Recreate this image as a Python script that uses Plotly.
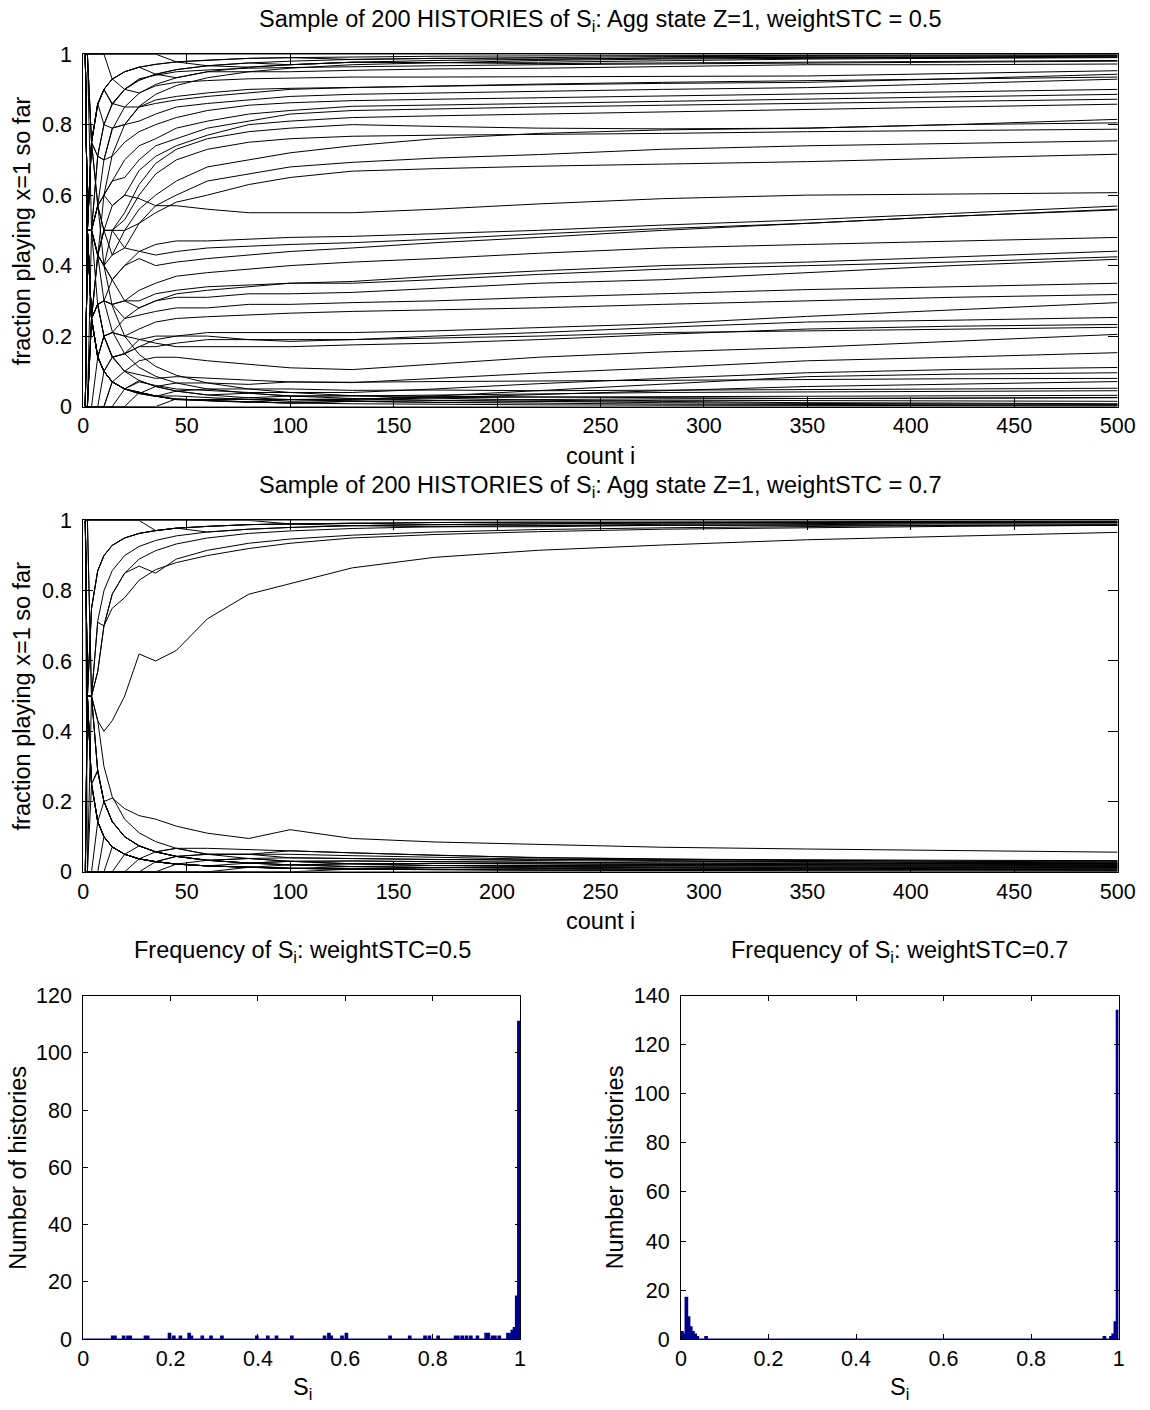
import numpy as np
import plotly.graph_objects as go

# ---------------- data ----------------
COUNT_I = [1, 2, 4, 7, 10, 14, 20, 27, 35, 45, 60, 80, 100, 130, 170, 220, 280, 350, 420, 500]

# weightSTC = 0.5 : histories that keep wandering
top_wandering = [
    [1, 1, 0.75, 0.86, 0.9, 0.86, 0.9, 0.89, 0.91, 0.92, 0.925, 0.93, 0.932, 0.935, 0.935, 0.936, 0.937, 0.938, 0.945, 0.953],
    [1, 0.5, 0.75, 0.86, 0.8, 0.86, 0.85, 0.85, 0.87, 0.88, 0.89, 0.9, 0.903, 0.906, 0.91, 0.913, 0.917, 0.92, 0.93, 0.943],
    [0, 0.5, 0.75, 0.71, 0.8, 0.79, 0.8, 0.81, 0.83, 0.85, 0.86, 0.87, 0.88, 0.886, 0.89, 0.895, 0.9, 0.905, 0.917, 0.929],
    [1, 0.5, 0.5, 0.71, 0.7, 0.71, 0.75, 0.78, 0.8, 0.82, 0.84, 0.855, 0.862, 0.868, 0.872, 0.876, 0.88, 0.886, 0.893, 0.9],
    [0, 0.5, 0.5, 0.57, 0.6, 0.64, 0.7, 0.74, 0.76, 0.79, 0.81, 0.83, 0.84, 0.852, 0.855, 0.86, 0.866, 0.872, 0.879, 0.886],
    [1, 1, 0.75, 0.57, 0.6, 0.64, 0.65, 0.7, 0.74, 0.76, 0.79, 0.81, 0.83, 0.84, 0.845, 0.85, 0.855, 0.86, 0.866, 0.872],
    [0, 0.5, 0.5, 0.43, 0.5, 0.57, 0.6, 0.67, 0.71, 0.74, 0.77, 0.8, 0.81, 0.82, 0.825, 0.83, 0.838, 0.844, 0.851, 0.858],
    [1, 0.5, 0.25, 0.43, 0.5, 0.5, 0.55, 0.63, 0.69, 0.73, 0.76, 0.78, 0.79, 0.8, 0.795, 0.79, 0.788, 0.79, 0.8, 0.815],
    [0, 0, 0.25, 0.43, 0.4, 0.5, 0.53, 0.6, 0.66, 0.7, 0.73, 0.75, 0.76, 0.767, 0.77, 0.772, 0.775, 0.78, 0.784, 0.787],
    [1, 0.5, 0.5, 0.57, 0.5, 0.5, 0.45, 0.52, 0.57, 0.6, 0.64, 0.66, 0.68, 0.693, 0.705, 0.715, 0.73, 0.74, 0.747, 0.754],
    [0, 0.5, 0.5, 0.43, 0.4, 0.43, 0.5, 0.52, 0.55, 0.58, 0.6, 0.63, 0.65, 0.668, 0.675, 0.682, 0.688, 0.695, 0.705, 0.716],
    [1, 0.5, 0.5, 0.57, 0.6, 0.57, 0.6, 0.59, 0.57, 0.57, 0.56, 0.55, 0.55, 0.55, 0.56, 0.575, 0.59, 0.6, 0.603, 0.607],
    [0, 0.5, 0.25, 0.29, 0.3, 0.36, 0.4, 0.44, 0.46, 0.47, 0.47, 0.475, 0.48, 0.483, 0.49, 0.5, 0.515, 0.53, 0.548, 0.569],
    [1, 0.5, 0.5, 0.43, 0.4, 0.36, 0.4, 0.42, 0.4, 0.41, 0.42, 0.43, 0.44, 0.45, 0.465, 0.48, 0.5, 0.52, 0.54, 0.56],
    [1, 0.5, 0.5, 0.57, 0.5, 0.43, 0.45, 0.44, 0.43, 0.44, 0.45, 0.455, 0.46, 0.465, 0.475, 0.49, 0.505, 0.52, 0.54, 0.558],
    [0, 0, 0.25, 0.29, 0.3, 0.29, 0.3, 0.33, 0.35, 0.37, 0.38, 0.39, 0.4, 0.41, 0.42, 0.435, 0.45, 0.46, 0.47, 0.48],
    [1, 0.5, 0.25, 0.14, 0.2, 0.21, 0.25, 0.28, 0.3, 0.32, 0.33, 0.34, 0.35, 0.355, 0.37, 0.385, 0.4, 0.41, 0.425, 0.441],
    [0, 0.5, 0.25, 0.29, 0.3, 0.29, 0.3, 0.3, 0.32, 0.33, 0.34, 0.345, 0.35, 0.35, 0.36, 0.375, 0.39, 0.4, 0.41, 0.425],
    [0, 0.5, 0.5, 0.43, 0.4, 0.36, 0.3, 0.28, 0.3, 0.31, 0.31, 0.32, 0.32, 0.324, 0.335, 0.35, 0.36, 0.38, 0.4, 0.418],
    [1, 0.5, 0.25, 0.29, 0.3, 0.29, 0.25, 0.26, 0.27, 0.28, 0.28, 0.29, 0.29, 0.295, 0.3, 0.31, 0.32, 0.332, 0.34, 0.35],
    [0, 0, 0.25, 0.14, 0.2, 0.21, 0.2, 0.22, 0.24, 0.25, 0.255, 0.26, 0.265, 0.27, 0.275, 0.28, 0.29, 0.3, 0.31, 0.318],
    [0, 0.5, 0.25, 0.29, 0.2, 0.14, 0.15, 0.17, 0.19, 0.2, 0.21, 0.21, 0.21, 0.21, 0.215, 0.225, 0.235, 0.256, 0.275, 0.295],
    [1, 0.5, 0.25, 0.14, 0.1, 0.14, 0.15, 0.17, 0.17, 0.18, 0.19, 0.19, 0.19, 0.19, 0.2, 0.21, 0.225, 0.24, 0.245, 0.253],
    [0, 0, 0.25, 0.29, 0.2, 0.21, 0.2, 0.19, 0.18, 0.17, 0.17, 0.17, 0.17, 0.175, 0.18, 0.19, 0.205, 0.22, 0.228, 0.233],
    [0, 0, 0.25, 0.14, 0.1, 0.14, 0.15, 0.19, 0.2, 0.2, 0.2, 0.19, 0.185, 0.19, 0.195, 0.2, 0.21, 0.215, 0.22, 0.225],
    [0, 0.5, 0.25, 0.14, 0.1, 0.07, 0.1, 0.13, 0.14, 0.14, 0.13, 0.12, 0.11, 0.105, 0.12, 0.14, 0.155, 0.168, 0.185, 0.205],
    [1, 0.5, 0.25, 0.14, 0.2, 0.14, 0.1, 0.09, 0.08, 0.085, 0.08, 0.075, 0.07, 0.068, 0.08, 0.095, 0.11, 0.13, 0.14, 0.153],
    [0, 0, 0, 0.14, 0.1, 0.07, 0.05, 0.07, 0.06, 0.05, 0.045, 0.04, 0.04, 0.04, 0.05, 0.065, 0.08, 0.096, 0.105, 0.111],
    [0, 0.5, 0.25, 0.14, 0.1, 0.07, 0.05, 0.04, 0.03, 0.03, 0.025, 0.02, 0.02, 0.02, 0.03, 0.045, 0.065, 0.085, 0.092, 0.096],
    [0, 0, 0, 0, 0.1, 0.07, 0.05, 0.04, 0.03, 0.02, 0.02, 0.02, 0.015, 0.018, 0.025, 0.035, 0.045, 0.057, 0.064, 0.071],
    [0, 0, 0, 0, 0, 0.07, 0.05, 0.04, 0.03, 0.02, 0.02, 0.025, 0.03, 0.03, 0.032, 0.036, 0.04, 0.042, 0.043, 0.045],
    [0, 0, 0, 0, 0, 0, 0, 0.04, 0.03, 0.02, 0.017, 0.012, 0.02, 0.023, 0.025, 0.027, 0.028, 0.03, 0.031, 0.032],
    [1, 0.5, 0.25, 0.14, 0.1, 0.07, 0.05, 0.04, 0.03, 0.02, 0.017, 0.012, 0.01, 0.015, 0.018, 0.02, 0.022, 0.023, 0.024, 0.025],
    [1, 0.5, 0.5, 0.43, 0.5, 0.5, 0.5, 0.56, 0.6, 0.64, 0.68, 0.7, 0.72, 0.74, 0.76, 0.775, 0.785, 0.79, 0.8, 0.805],
    [1, 1, 0.75, 0.71, 0.7, 0.79, 0.8, 0.85, 0.86, 0.87, 0.88, 0.89, 0.9, 0.905, 0.91, 0.915, 0.92, 0.925, 0.93, 0.935],
    [0, 0.5, 0.75, 0.86, 0.9, 0.93, 0.9, 0.93, 0.94, 0.95, 0.955, 0.96, 0.962, 0.965, 0.967, 0.97, 0.972, 0.975, 0.977, 0.98],
]

# weightSTC = 0.5 : histories locked in near 1 or near 0
top_locked = [
    [1, 1, 1, 1, 1, 1, 1, 1, 1, 1, 1, 1, 1, 1, 1, 1, 1, 1, 1, 1],
    [0, 0.5, 0.75, 0.857, 0.9, 0.929, 0.95, 0.963, 0.971, 0.978, 0.983, 0.988, 0.99, 0.992, 0.994, 0.995, 0.996, 0.997, 0.998, 0.998],
    [1, 0.5, 0.5, 0.714, 0.8, 0.857, 0.9, 0.926, 0.943, 0.956, 0.967, 0.975, 0.98, 0.985, 0.988, 0.991, 0.993, 0.994, 0.995, 0.996],
    [0, 0, 0.5, 0.57, 0.7, 0.786, 0.85, 0.889, 0.914, 0.933, 0.95, 0.963, 0.97, 0.977, 0.982, 0.986, 0.989, 0.991, 0.993, 0.994],
    [1, 0.5, 0.25, 0.43, 0.6, 0.714, 0.8, 0.852, 0.886, 0.911, 0.933, 0.95, 0.96, 0.97, 0.976, 0.982, 0.986, 0.989, 0.99, 0.992],
    [1, 1, 1, 1, 1, 0.929, 0.95, 0.963, 0.943, 0.956, 0.967, 0.963, 0.97, 0.977, 0.976, 0.977, 0.982, 0.986, 0.988, 0.99],
    [1, 0.5, 0.75, 0.857, 0.9, 0.929, 0.95, 0.963, 0.971, 0.978, 0.967, 0.975, 0.97, 0.977, 0.976, 0.973, 0.975, 0.977, 0.98, 0.982],
    [0, 0.5, 0.75, 0.857, 0.9, 0.857, 0.9, 0.926, 0.943, 0.933, 0.95, 0.95, 0.95, 0.954, 0.958, 0.96, 0.965, 0.97, 0.97, 0.972],
    [1, 1, 1, 1, 1, 1, 1, 1, 1, 0.978, 0.983, 0.988, 0.99, 0.985, 0.988, 0.986, 0.989, 0.991, 0.99, 0.992],
    [0, 0, 0, 0, 0, 0, 0, 0, 0, 0, 0, 0, 0, 0, 0, 0, 0, 0, 0, 0],
    [1, 0.5, 0.25, 0.143, 0.1, 0.071, 0.05, 0.037, 0.029, 0.022, 0.017, 0.0125, 0.01, 0.008, 0.006, 0.005, 0.004, 0.003, 0.002, 0.002],
    [0, 0.5, 0.5, 0.286, 0.2, 0.143, 0.1, 0.074, 0.057, 0.044, 0.033, 0.025, 0.02, 0.015, 0.012, 0.009, 0.007, 0.006, 0.005, 0.004],
    [1, 1, 0.5, 0.43, 0.3, 0.214, 0.15, 0.111, 0.086, 0.067, 0.05, 0.038, 0.03, 0.023, 0.018, 0.014, 0.011, 0.009, 0.007, 0.006],
    [0, 0.5, 0.75, 0.57, 0.4, 0.286, 0.2, 0.148, 0.114, 0.089, 0.067, 0.05, 0.04, 0.031, 0.024, 0.018, 0.014, 0.011, 0.01, 0.008],
    [0, 0, 0, 0, 0, 0, 0.05, 0.037, 0.029, 0.044, 0.033, 0.038, 0.03, 0.031, 0.029, 0.027, 0.025, 0.023, 0.024, 0.026],
    [0, 0, 0, 0, 0, 0.071, 0.05, 0.037, 0.057, 0.044, 0.05, 0.05, 0.05, 0.046, 0.047, 0.045, 0.046, 0.049, 0.05, 0.052],
    [1, 0.5, 0.25, 0.143, 0.1, 0.071, 0.05, 0.074, 0.057, 0.067, 0.067, 0.063, 0.07, 0.069, 0.071, 0.073, 0.075, 0.077, 0.079, 0.08],
    [0, 0, 0, 0, 0, 0, 0, 0, 0, 0.022, 0.017, 0.013, 0.01, 0.015, 0.012, 0.014, 0.018, 0.017, 0.016, 0.015],
]

# weightSTC = 0.7 : the few visible interior histories
mid_wandering = [
    [1, 0.5, 0.5, 0.43, 0.4, 0.43, 0.5, 0.62, 0.6, 0.63, 0.72, 0.79, 0.82, 0.865, 0.895, 0.915, 0.93, 0.945, 0.955, 0.966],
    [1, 0.5, 0.5, 0.71, 0.7, 0.75, 0.78, 0.83, 0.86, 0.88, 0.9, 0.92, 0.935, 0.95, 0.96, 0.968, 0.975, 0.98, 0.983, 0.986],
    [1, 0.5, 0.5, 0.57, 0.7, 0.79, 0.85, 0.87, 0.85, 0.89, 0.915, 0.935, 0.947, 0.958, 0.967, 0.974, 0.979, 0.983, 0.986, 0.988],
    [0, 0.5, 0.5, 0.57, 0.7, 0.79, 0.85, 0.89, 0.914, 0.933, 0.95, 0.963, 0.97, 0.977, 0.982, 0.986, 0.989, 0.991, 0.993, 0.994],
    [0, 0.5, 0.75, 0.857, 0.9, 0.929, 0.95, 0.963, 0.971, 0.978, 0.983, 0.988, 0.99, 0.992, 0.994, 0.995, 0.996, 0.997, 0.998, 0.998],
    [1, 0, 0.5, 0.714, 0.8, 0.857, 0.9, 0.926, 0.943, 0.956, 0.967, 0.975, 0.98, 0.985, 0.988, 0.991, 0.993, 0.994, 0.995, 0.996],
    [0, 0.5, 0.25, 0.29, 0.2, 0.21, 0.18, 0.16, 0.15, 0.13, 0.11, 0.095, 0.12, 0.095, 0.085, 0.078, 0.07, 0.065, 0.06, 0.056],
    [1, 0.5, 0.5, 0.43, 0.3, 0.214, 0.15, 0.111, 0.086, 0.067, 0.05, 0.038, 0.03, 0.023, 0.018, 0.014, 0.011, 0.009, 0.007, 0.006],
    [1, 1, 0.5, 0.286, 0.2, 0.143, 0.1, 0.074, 0.057, 0.044, 0.033, 0.025, 0.02, 0.015, 0.012, 0.009, 0.007, 0.006, 0.005, 0.004],
    [1, 0.5, 0.25, 0.143, 0.1, 0.071, 0.05, 0.037, 0.029, 0.022, 0.017, 0.0125, 0.01, 0.008, 0.006, 0.005, 0.004, 0.003, 0.002, 0.002],
]

# weightSTC = 0.7 : histories locked in near 0 / near 1
mid_locked = [
    [0, 0, 0, 0, 0, 0, 0, 0, 0, 0, 0, 0, 0, 0, 0, 0, 0, 0, 0, 0],
    [1, 0.5, 0.25, 0.143, 0.1, 0.071, 0.05, 0.037, 0.029, 0.022, 0.033, 0.025, 0.03, 0.023, 0.024, 0.023, 0.021, 0.02, 0.019, 0.018],
    [0, 0, 0, 0, 0, 0, 0.05, 0.037, 0.029, 0.044, 0.033, 0.038, 0.03, 0.031, 0.029, 0.027, 0.025, 0.023, 0.024, 0.024],
    [0, 0.5, 0.25, 0.143, 0.1, 0.071, 0.05, 0.037, 0.057, 0.067, 0.05, 0.05, 0.04, 0.038, 0.035, 0.032, 0.03, 0.028, 0.027, 0.026],
    [1, 0.5, 0.5, 0.286, 0.2, 0.143, 0.1, 0.074, 0.057, 0.044, 0.033, 0.038, 0.04, 0.038, 0.035, 0.036, 0.034, 0.033, 0.031, 0.03],
    [0, 0, 0, 0, 0, 0, 0, 0.037, 0.029, 0.022, 0.017, 0.025, 0.02, 0.023, 0.018, 0.018, 0.018, 0.017, 0.017, 0.016],
    [0, 0, 0, 0, 0, 0.071, 0.05, 0.037, 0.029, 0.022, 0.017, 0.013, 0.01, 0.008, 0.012, 0.014, 0.014, 0.013, 0.012, 0.012],
    [1, 0.5, 0.25, 0.286, 0.2, 0.143, 0.1, 0.074, 0.057, 0.067, 0.067, 0.063, 0.06, 0.054, 0.047, 0.041, 0.036, 0.032, 0.03, 0.028],
    [0, 0, 0, 0, 0.1, 0.071, 0.05, 0.037, 0.029, 0.022, 0.017, 0.013, 0.01, 0.015, 0.018, 0.018, 0.021, 0.02, 0.019, 0.02],
    [0, 0, 0.25, 0.143, 0.1, 0.071, 0.05, 0.074, 0.057, 0.044, 0.033, 0.025, 0.03, 0.031, 0.029, 0.027, 0.025, 0.026, 0.024, 0.022],
    [0, 0, 0, 0, 0, 0, 0, 0, 0, 0.022, 0.017, 0.013, 0.01, 0.008, 0.006, 0.009, 0.011, 0.011, 0.01, 0.01],
    [1, 1, 0.5, 0.286, 0.2, 0.143, 0.1, 0.074, 0.057, 0.044, 0.05, 0.05, 0.05, 0.046, 0.041, 0.036, 0.032, 0.029, 0.026, 0.024],
    [0, 0, 0, 0, 0, 0, 0, 0, 0.029, 0.022, 0.017, 0.013, 0.02, 0.015, 0.012, 0.014, 0.014, 0.014, 0.014, 0.014],
    [0, 0.5, 0.25, 0.143, 0.1, 0.071, 0.05, 0.037, 0.029, 0.022, 0.017, 0.013, 0.01, 0.008, 0.006, 0.005, 0.004, 0.006, 0.007, 0.008],
    [0, 0, 0, 0.143, 0.1, 0.071, 0.05, 0.037, 0.029, 0.044, 0.05, 0.05, 0.06, 0.054, 0.047, 0.04, 0.036, 0.034, 0.033, 0.032],
    [0, 0, 0, 0, 0, 0, 0, 0, 0, 0, 0, 0.013, 0.01, 0.008, 0.012, 0.014, 0.018, 0.017, 0.017, 0.016],
    [1, 0.5, 0.25, 0.143, 0.2, 0.143, 0.1, 0.074, 0.057, 0.044, 0.033, 0.025, 0.02, 0.023, 0.024, 0.023, 0.021, 0.023, 0.021, 0.02],
    [0, 0, 0, 0, 0, 0, 0, 0, 0, 0, 0, 0, 0, 0.008, 0.006, 0.005, 0.007, 0.009, 0.01, 0.012],
    [1, 1, 1, 1, 1, 1, 1, 1, 1, 1, 1, 1, 1, 1, 1, 1, 1, 1, 1, 1],
    [1, 1, 1, 1, 1, 1, 1, 1, 0.971, 0.978, 0.983, 0.988, 0.99, 0.992, 0.994, 0.995, 0.993, 0.994, 0.995, 0.996],
    [0, 0.5, 0.75, 0.857, 0.9, 0.929, 0.95, 0.963, 0.971, 0.978, 0.967, 0.975, 0.98, 0.985, 0.988, 0.986, 0.986, 0.989, 0.99, 0.99],
    [1, 1, 1, 1, 1, 1, 1, 1, 1, 1, 1, 1, 0.99, 0.992, 0.988, 0.991, 0.993, 0.994, 0.995, 0.994],
    [1, 0.5, 0.75, 0.857, 0.9, 0.929, 0.95, 0.963, 0.971, 0.978, 0.983, 0.988, 0.99, 0.985, 0.982, 0.982, 0.986, 0.986, 0.986, 0.986],
]

# Histograms of final S_i (bin width 0.005, only non-empty bins listed)
BIN_WIDTH = 0.005
hist05_centers = [0.0675, 0.0725, 0.0925, 0.1025, 0.1075, 0.1425, 0.1475, 0.1975, 0.2075, 0.2225,
                  0.2425, 0.2475, 0.2725, 0.2925, 0.3175, 0.3975, 0.4225, 0.4425, 0.4775, 0.5525,
                  0.5625, 0.5675, 0.5925, 0.6025, 0.7025, 0.7475, 0.7825, 0.7925, 0.8125, 0.8525,
                  0.8575, 0.8675, 0.8775, 0.8875, 0.9025, 0.9225, 0.9275, 0.9375, 0.9425, 0.9525,
                  0.9725, 0.9775, 0.9825, 0.9875, 0.9925, 0.9975]
hist05_counts = [1, 1, 1, 1, 1, 1, 1, 2, 1, 1,
                 2, 1, 1, 1, 1, 1, 1, 1, 1, 1,
                 2, 1, 1, 2, 1, 1, 1, 1, 1, 1,
                 1, 1, 1, 1, 1, 2, 2, 1, 1, 1,
                 2, 2, 3, 4, 15, 111]
hist07_centers = [0.0025, 0.0075, 0.0125, 0.0175, 0.0225, 0.0275, 0.0325, 0.0375, 0.0575,
                  0.9675, 0.9825, 0.9875, 0.9925, 0.9975]
hist07_counts = [3, 2, 17, 9, 5, 3, 2, 1, 1, 1, 1, 2, 7, 134]

# ---------------- figure ----------------
FONT = "Liberation Sans, Arial, sans-serif"
W, H = 1150, 1410
# the photographed page comes out slightly shrunk and shifted; compensate so that
# the target pixel positions below land where they are in the reference
SX_A, SX_B = 5.7, 0.9797
SY_A, SY_B = 10.8, 0.9845


def px_x(p):
    return ((p - SX_A) / SX_B) / W


def px_y(p):
    return 1 - ((p - SY_A) / SY_B) / H


def stack(histories):
    xs, ys = [], []
    for h in histories:
        xs += COUNT_I + [None]
        ys += h + [None]
    return xs, ys


def step_hist(centers, counts):
    nb = int(round(1 / BIN_WIDTH))
    edges = np.linspace(0, 1, nb + 1)
    full = np.zeros(nb)
    for c, n in zip(centers, counts):
        full[int(c / BIN_WIDTH)] = n
    return list(edges), list(np.append(full, full[-1]))


fig = go.Figure()
line_style = dict(color="black", width=1)

x1, y1 = stack(top_locked + top_wandering)
fig.add_trace(go.Scatter(x=x1, y=y1, mode="lines", line=line_style, xaxis="x", yaxis="y",
                         hoverinfo="skip", showlegend=False))
x2, y2 = stack(mid_locked + mid_wandering)
fig.add_trace(go.Scatter(x=x2, y=y2, mode="lines", line=line_style, xaxis="x2", yaxis="y2",
                         hoverinfo="skip", showlegend=False))

NAVY = "#00008F"
hx, hy = step_hist(hist05_centers, hist05_counts)
fig.add_trace(go.Scatter(x=hx, y=hy, mode="lines", line=dict(color=NAVY, width=1.5, shape="hv"),
                         fill="tozeroy", fillcolor=NAVY, xaxis="x3", yaxis="y3",
                         hoverinfo="skip", showlegend=False))
hx, hy = step_hist(hist07_centers, hist07_counts)
fig.add_trace(go.Scatter(x=hx, y=hy, mode="lines", line=dict(color=NAVY, width=1.5, shape="hv"),
                         fill="tozeroy", fillcolor=NAVY, xaxis="x4", yaxis="y4",
                         hoverinfo="skip", showlegend=False))

tickfont = dict(family=FONT, size=21.5, color="black")


def ax(domain, anchor, rng, dtick, ticklen, standoff):
    return dict(domain=domain, anchor=anchor, range=rng, dtick=dtick, tick0=0,
                showline=True, linecolor="black", linewidth=1, mirror="ticks",
                ticks="inside", ticklen=ticklen, tickcolor="black", tickwidth=1,
                showgrid=False, zeroline=False, tickfont=tickfont, fixedrange=True,
                ticklabelstandoff=standoff)


xdom_full = [px_x(83), px_x(1118)]
xdom_l = [px_x(83), px_x(520)]
xdom_r = [px_x(681), px_x(1119)]

fig.update_layout(
    width=W, height=H,
    margin=dict(l=0, r=0, t=0, b=0),
    paper_bgcolor="white", plot_bgcolor="white",
    xaxis=ax(xdom_full, "y", [0, 500], 50, 10, 0),
    yaxis=ax([px_y(407), px_y(54)], "x", [0, 1], 0.2, 10, 6),
    xaxis2=ax(xdom_full, "y2", [0, 500], 50, 10, 0),
    yaxis2=ax([px_y(873), px_y(521)], "x2", [0, 1], 0.2, 10, 6),
    xaxis3=ax(xdom_l, "y3", [0, 1], 0.2, 5, 0),
    yaxis3=ax([px_y(1341), px_y(997)], "x3", [0, 120], 20, 5, 6),
    xaxis4=ax(xdom_r, "y4", [0, 1], 0.2, 5, 0),
    yaxis4=ax([px_y(1341), px_y(997)], "x4", [0, 140], 20, 5, 6),
)

lab = dict(family=FONT, size=23.5, color="black")


def note(text, x, y, angle=0):
    fig.add_annotation(text=text, x=px_x(x), y=px_y(y), xref="paper", yref="paper",
                       showarrow=False, font=lab, textangle=angle,
                       xanchor="center", yanchor="middle")


note("Sample of 200 HISTORIES of S<sub>i</sub>: Agg state Z=1, weightSTC = 0.5", 600, 20)
note("count i", 601, 456)
note("fraction playing x=1 so far", 22, 231, -90)
note("Sample of 200 HISTORIES of S<sub>i</sub>: Agg state Z=1, weightSTC = 0.7", 600, 487)
note("count i", 601, 922)
note("fraction playing x=1 so far", 22, 697, -90)
note("Frequency of S<sub>i</sub>: weightSTC=0.5", 302, 953)
note("Frequency of S<sub>i</sub>: weightSTC=0.7", 900, 953)
note("Number of histories", 18, 1169, -90)
note("Number of histories", 615, 1169, -90)
note("S<sub>i</sub>", 302, 1390)
note("S<sub>i</sub>", 900, 1390)

fig.write_html("out.html")
